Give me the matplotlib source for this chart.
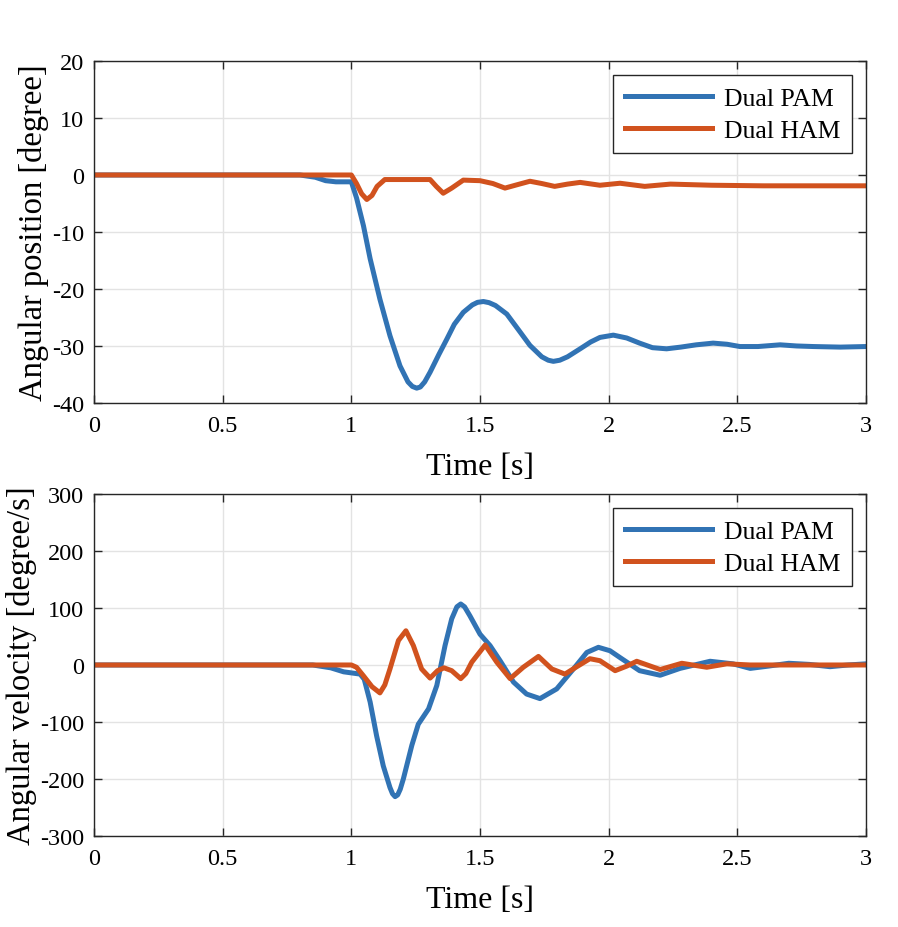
import matplotlib
matplotlib.use("Agg")
import matplotlib.pyplot as plt

plt.rcParams["font.family"] = ["Liberation Serif", "DejaVu Serif"]
plt.rcParams["axes.unicode_minus"] = False

# angular position [degree]
pam_pos_t = [0, 0.80, 0.86, 0.90, 0.94, 1.0, 1.02, 1.047, 1.073, 1.111, 1.15, 1.189, 1.22,
             1.237, 1.254, 1.268, 1.285, 1.306, 1.34, 1.371, 1.40, 1.435, 1.47, 1.49, 1.513,
             1.535, 1.56, 1.604, 1.65, 1.694, 1.74, 1.765, 1.785, 1.81, 1.84, 1.889, 1.93,
             1.966, 2.018, 2.07, 2.12, 2.17, 2.225, 2.28, 2.34, 2.406, 2.46, 2.51, 2.58,
             2.666, 2.73, 2.795, 2.9, 3.0]
pam_pos = [0, 0, -0.4, -1.0, -1.2, -1.2, -4.0, -8.9, -14.7, -21.8, -28.2, -33.5, -36.3,
           -37.1, -37.4, -37.2, -36.3, -34.6, -31.5, -28.8, -26.2, -24.1, -22.8, -22.35, -22.2,
           -22.4, -22.9, -24.4, -27.2, -29.9, -31.9, -32.5, -32.7, -32.5, -31.9, -30.5, -29.3,
           -28.5, -28.1, -28.6, -29.5, -30.3, -30.5, -30.2, -29.8, -29.5, -29.7, -30.1, -30.1,
           -29.8, -30.0, -30.1, -30.2, -30.1]

ham_pos_t = [0, 1.0, 1.02, 1.04, 1.06, 1.08, 1.10, 1.13, 1.2, 1.306, 1.33, 1.357, 1.39,
             1.435, 1.5, 1.55, 1.597, 1.645, 1.694, 1.74, 1.79, 1.84, 1.889, 1.966, 2.044,
             2.14, 2.24, 2.4, 2.6, 3.0]
ham_pos = [0, 0, -1.5, -3.3, -4.3, -3.6, -2.0, -0.8, -0.8, -0.8, -2.0, -3.2, -2.3,
           -0.9, -1.0, -1.5, -2.3, -1.7, -1.1, -1.5, -2.0, -1.6, -1.3, -1.8, -1.45,
           -2.0, -1.6, -1.8, -1.9, -1.9]

# angular velocity [degree/s]
pam_vel_t = [0, 0.85, 0.92, 0.97, 1.034, 1.05, 1.073, 1.098, 1.124, 1.15, 1.16, 1.17, 1.18,
             1.19, 1.202, 1.235, 1.26, 1.3, 1.332, 1.364, 1.39, 1.41, 1.425, 1.44, 1.461,
             1.5, 1.539, 1.578, 1.63, 1.681, 1.733, 1.798, 1.863, 1.915, 1.96, 2.005, 2.044,
             2.12, 2.2, 2.277, 2.394, 2.483, 2.55, 2.62, 2.7, 2.78, 2.86, 2.93, 3.0]
pam_vel = [0, 0, -5, -12, -16, -25, -65, -124, -177, -215, -226, -231, -228,
           -218, -200, -141, -104, -77, -36, 34, 81, 102, 107, 102, 86,
           54, 34, 7.5, -30, -51, -59, -42, -7, 22, 31, 25, 13,
           -10, -18, -6, 6.5, 2, -6, -2, 3, 1, -3, 0, 2]

ham_vel_t = [0, 1.0, 1.02, 1.047, 1.08, 1.111, 1.13, 1.15, 1.183, 1.212, 1.241, 1.273,
             1.306, 1.335, 1.36, 1.39, 1.425, 1.445, 1.468, 1.52, 1.565, 1.617, 1.668,
             1.727, 1.779, 1.83, 1.876, 1.927, 1.966, 2.025, 2.07, 2.109, 2.2, 2.284,
             2.381, 2.459, 2.55, 3.0]
ham_vel = [0, 0, -4, -19, -38, -49, -35, -7, 43, 60, 34, -7,
           -23, -10, -5, -10, -24, -15, 5, 35, 5, -24, -4,
           15, -7, -16, -3, 11, 7.5, -10, -2, 6.5, -8, 3,
           -4, 2, 0, 0]

x_ticks = [0, 0.5, 1, 1.5, 2, 2.5, 3]
x_labels = ["0", "0.5", "1", "1.5", "2", "2.5", "3"]

BLUE = "#3173b4"
ORANGE = "#d1521e"
EDGE = "#262626"


def style_axes(ax, yticks, ylabel):
    ax.set_xlim(0, 3)
    ax.set_xticks(x_ticks)
    ax.set_xticklabels(x_labels)
    ax.set_yticks(yticks)
    ax.set_ylim(yticks[0], yticks[-1])
    ax.grid(True, color="#e3e3e3", linewidth=1.0)
    ax.set_axisbelow(True)
    ax.tick_params(direction="in", top=True, right=True, length=6, width=1.0,
                   color=EDGE, labelsize=17.5)
    ax.tick_params(axis="x", pad=9)
    ax.tick_params(axis="y", pad=7)
    for s in ax.spines.values():
        s.set_color(EDGE)
        s.set_linewidth(1.0)
    ax.set_xlabel("Time [s]", fontsize=23, labelpad=11)
    ax.set_ylabel(ylabel, fontsize=23.5, labelpad=2)
    leg = ax.legend(loc="upper right", fontsize=18.5, handlelength=3.4, fancybox=False,
                    framealpha=1, edgecolor=EDGE, borderaxespad=0.55,
                    handletextpad=0.45, borderpad=0.45, labelspacing=0.35)
    leg.get_frame().set_linewidth(1.0)


fig = plt.figure(figsize=(8.98, 9.28), dpi=100)
ax1 = fig.add_axes([0.1047, 0.5647, 0.8597, 0.3685])
ax2 = fig.add_axes([0.1047, 0.0981, 0.8597, 0.3685])

ax1.plot(pam_pos_t, pam_pos, color=BLUE, lw=3.6, label="Dual PAM")
ax1.plot(ham_pos_t, ham_pos, color=ORANGE, lw=3.6, label="Dual HAM")
style_axes(ax1, [-40, -30, -20, -10, 0, 10, 20], "Angular position [degree]")

ax2.plot(pam_vel_t, pam_vel, color=BLUE, lw=3.6, label="Dual PAM")
ax2.plot(ham_vel_t, ham_vel, color=ORANGE, lw=3.6, label="Dual HAM")
style_axes(ax2, [-300, -200, -100, 0, 100, 200, 300], "Angular velocity [degree/s]")

fig.savefig("out.png", dpi=100)
